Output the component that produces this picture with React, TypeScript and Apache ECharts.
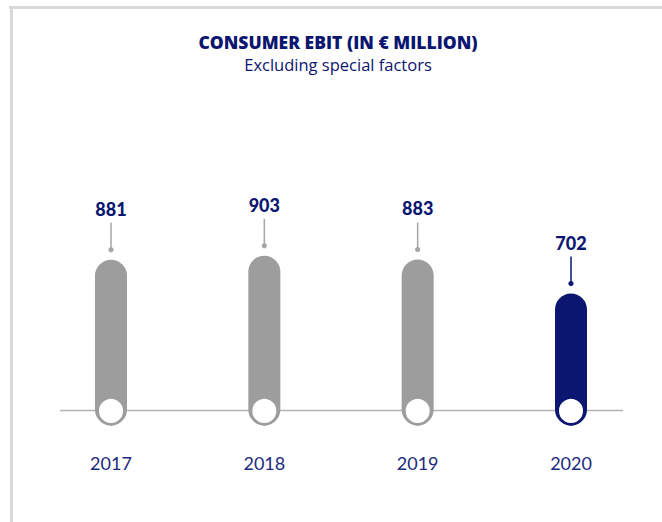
import React, { useEffect, useRef } from "react";
import * as echarts from "echarts";

const years = ["2017", "2018", "2019", "2020"];
const ebit = [881, 903, 883, 702];
const highlightIndex = [3];

const NAVY = "#0b1670";
const GRAY = "#9d9d9d";
const LINE_GRAY = "#a6a6a6";
const FONT = "Lato, 'Noto Sans', sans-serif";
const TFONT = "'Open Sans', 'Noto Sans', sans-serif";

export default function App() {
  const ref = useRef<HTMLDivElement>(null);
  useEffect(() => {
    if (!ref.current) return;
    const chart = echarts.init(ref.current, undefined, { renderer: "svg" });
    const colorOf = (i: number) => (highlightIndex.includes(i) ? NAVY : GRAY);
    const connOf = (i: number) => (highlightIndex.includes(i) ? NAVY : LINE_GRAY);
    chart.setOption({
      animation: false,
      backgroundColor: "#ffffff",
      title: {
        text: "CONSUMER EBIT (IN € MILLION)",
        subtext: "Excluding special factors",
        left: 333,
        textAlign: "center",
        top: 26,
        itemGap: 3,
        textStyle: { fontFamily: TFONT, fontWeight: 800, fontSize: 17.5, color: NAVY, lineHeight: 22 },
        subtextStyle: { fontFamily: TFONT, fontWeight: 400, fontSize: 16.5, color: NAVY, lineHeight: 17 },
      },
      graphic: [
        { type: "rect", z: 0, shape: { x: 9, y: 6, width: 660, height: 3 }, style: { fill: "#d9d9d9" } },
        { type: "rect", z: 0, shape: { x: 10, y: 6, width: 3, height: 520 }, style: { fill: "#d9d9d9" } },
        { type: "line", z: 0, shape: { x1: 60, y1: 410.5, x2: 623, y2: 410.5 }, style: { stroke: "#b3b3b3", lineWidth: 1.5 } },
      ],
      grid: { left: 34.33, right: 14.33, top: 237.5, bottom: 96.5 },
      xAxis: {
        type: "category",
        data: years,
        axisLine: { show: false },
        axisTick: { show: false },
        axisLabel: { margin: 28, fontFamily: FONT, fontSize: 18, color: "#1e2a80" },
      },
      yAxis: { type: "value", min: 0, max: 1000, show: false, splitLine: { show: false } },
      series: [
        {
          type: "bar",
          barWidth: 32,
          z: 2,
          data: ebit.map((v, i) => ({ value: v, itemStyle: { color: colorOf(i) } })),
          itemStyle: { borderRadius: 16 },
        },
        {
          type: "scatter",
          z: 3,
          symbol: "circle",
          symbolSize: 26.5,
          symbolOffset: [0, -14.5],
          data: ebit.map((_, i) => ({
            value: 0,
            itemStyle: { color: "#ffffff", borderColor: colorOf(i), borderWidth: 2.5, opacity: 1 },
          })),
          silent: true,
        },
        {
          type: "custom",
          z: 4,
          data: ebit.map((v, i) => [i, v]),
          renderItem: (params: any, api: any) => {
            const i = api.value(0);
            const v = api.value(1);
            const pt = api.coord([i, v]);
            const c = connOf(i);
            return {
              type: "group",
              children: [
                { type: "line", shape: { x1: pt[0], y1: pt[1] - 37, x2: pt[0], y2: pt[1] - 10 }, style: { stroke: c, lineWidth: 1.5 } },
                { type: "circle", shape: { cx: pt[0], cy: pt[1] - 10, r: 2.6 }, style: { fill: c } },
                {
                  type: "text",
                  x: pt[0],
                  y: pt[1] - 51,
                  style: {
                    text: String(ebit[i]),
                    align: "center",
                    verticalAlign: "middle",
                    fontFamily: FONT,
                    fontWeight: 900,
                    fontSize: 18,
                    fill: NAVY,
                  },
                },
              ],
            };
          },
        },
      ],
    });
    return () => chart.dispose();
  }, []);
  return <div ref={ref} style={{ position: "fixed", left: 0, top: 0, width: 662, height: 522 }} />;
}
